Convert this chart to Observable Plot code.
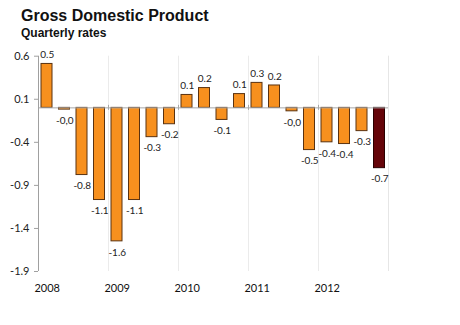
<!DOCTYPE html>
<html>
<head>
<meta charset="utf-8">
<script src="https://cdn.jsdelivr.net/npm/d3@7"></script>
<script src="https://cdn.jsdelivr.net/npm/@observablehq/plot@0.6"></script>
<style>
  body { margin: 0; background: #fff; }
  #wrap { width: 460px; height: 325px; position: relative; overflow: hidden; }
  #head { position: relative; height: 44px; }
  #title { position: absolute; left: 21px; top: 7.5px; font: bold 16px "Liberation Sans", Arial, sans-serif; line-height: 16px; color: #111; white-space: nowrap; }
  #subtitle { position: absolute; left: 21px; top: 27px; font: bold 12px "Liberation Sans", Arial, sans-serif; line-height: 12px; color: #111; white-space: nowrap; }
  svg { display: block; }
</style>
</head>
<body>
<div id="wrap">
  <div id="head">
    <div id="title">Gross Domestic Product</div>
    <div id="subtitle">Quarterly rates</div>
  </div>
  <div id="chart"></div>
</div>
<script>
const quarters = ["2008Q1","2008Q2","2008Q3","2008Q4","2009Q1","2009Q2","2009Q3","2009Q4","2010Q1","2010Q2","2010Q3","2010Q4","2011Q1","2011Q2","2011Q3","2011Q4","2012Q1","2012Q2","2012Q3","2012Q4"];
const values = [0.51, -0.02, -0.78, -1.07, -1.55, -1.07, -0.34, -0.19, 0.15, 0.23, -0.14, 0.16, 0.29, 0.26, -0.04, -0.49, -0.40, -0.42, -0.27, -0.70];
const labels = ["0.5","-0,0","-0.8","-1.1","-1.6","-1.1","-0.3","-0.2","0.1","0.2","-0.1","0.1","0.3","0.2","-0,0","-0.5","-0.4","-0.4","-0.3","-0.7"];
const years = [2008, 2009, 2010, 2011, 2012];
const yTicks = [0.6, 0.1, -0.4, -0.9, -1.4, -1.9];
const quartersPerYear = 4;

const data = quarters.map((q, i) => ({i, q, v: values[i], label: labels[i], last: i === quarters.length - 1}));
const boundaries = years.slice(1).map((y, k) => (k + 1) * quartersPerYear);
const yearTickPos = years.map((y, k) => k * quartersPerYear + 0.5);

const font = "Lato, 'Liberation Sans', sans-serif";

const chart = Plot.plot({
  width: 460,
  height: 281,
  marginTop: 11.7,
  marginBottom: 54,
  marginLeft: 38,
  marginRight: 72,
  style: {fontFamily: font, fontSize: "10px", color: "#222", background: "transparent"},
  x: {domain: [0, quarters.length], axis: null, label: null},
  y: {domain: [-1.9, 0.6], axis: null, label: null},
  marks: [
    Plot.ruleX(boundaries, {stroke: "#ebebeb", strokeWidth: 1}),
    Plot.ruleX([quarters.length], {stroke: "#e6e6e6", strokeWidth: 1}),
    Plot.rectY(data, {
      x1: d => d.i, x2: d => d.i + 1, y1: 0, y2: "v",
      insetLeft: 3, insetRight: 3.5,
      fill: d => d.last ? "#650409" : "#f7901e",
      stroke: d => d.last ? "#2a0000" : "#5a3210",
      strokeWidth: 1
    }),
    Plot.ruleY([0], {stroke: "#a8a8a8", strokeWidth: 1}),
    Plot.ruleX(boundaries, {y1: 0, y2: 0, insetTop: -2.5, insetBottom: -2.5, stroke: "#a8a8a8"}),
    Plot.ruleX([0], {stroke: "#a0a0a0", strokeWidth: 1}),
    Plot.axisY({ticks: yTicks, label: null, tickSize: 4, tickPadding: 5, stroke: "#a0a0a0", tickFormat: d => d.toFixed(1), fontSize: 11, fill: "#222"}),
    Plot.axisX({ticks: yearTickPos, label: null, tickSize: 0, tickPadding: 13, tickFormat: d => String(years[Math.round((d - 0.5) / quartersPerYear)]), fontSize: 11, fill: "#111"}),
    Plot.text(data.filter(d => d.v >= 0), {x: d => d.i + 0.5, y: "v", text: "label", dy: -9, fill: "#222", fontSize: 10}),
    Plot.text(data.filter(d => d.v < 0), {x: d => d.i + 0.5, y: "v", text: "label", dy: 11, fill: "#222", fontSize: 10})
  ]
});
document.getElementById("chart").appendChild(chart);
</script>
</body>
</html>
